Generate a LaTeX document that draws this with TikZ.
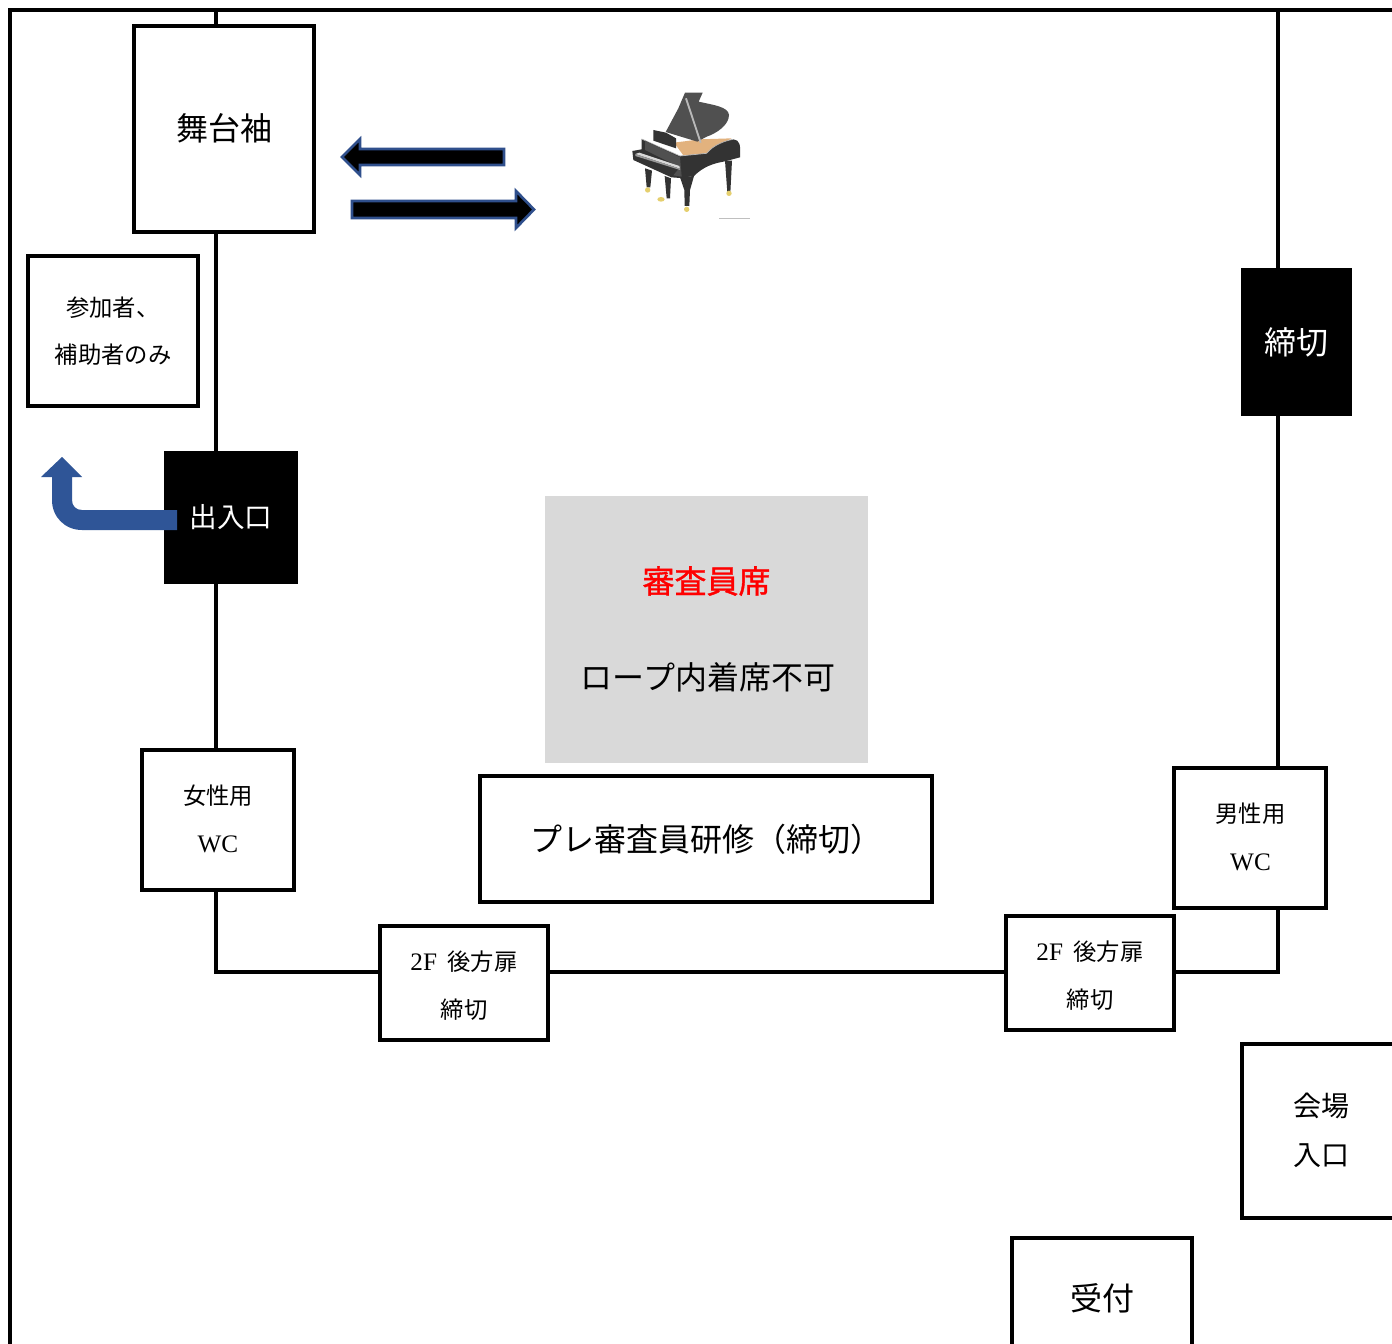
\documentclass[tikz,border=0pt]{standalone}
\usepackage{fontspec}
\setmainfont{Liberation Serif}
\newfontfamily\jp{Noto Sans CJK JP}
\newfontfamily\jpheavy{Noto Sans CJK JP}[FakeBold=1.2]
\newfontfamily\latinpart{Liberation Serif}[Scale=1.08]
\definecolor{arrowblue}{HTML}{2F5597}
\definecolor{greybox}{HTML}{D9D9D9}
\definecolor{edgeblue}{HTML}{2F4F8C}
\definecolor{pianodark}{HTML}{333333}
\definecolor{pianomid}{HTML}{505050}
\definecolor{pianorim}{HTML}{B8B8B8}
\definecolor{pianogold}{HTML}{E2B27E}
\definecolor{pianofoot}{HTML}{E5CF6E}
\tikzset{
 wall/.style={line width=3pt,black,line join=miter},
 roombox/.style={draw=black,line width=3pt,fill=white,inner sep=0pt,align=center,anchor=center,font=\jp},
 blackbox/.style={fill=black,text=white,inner sep=0pt,align=center,anchor=center,font=\jp},
 greyarea/.style={fill=greybox,inner sep=0pt,anchor=center},
 plain/.style={inner sep=0pt,align=center,anchor=center,font=\jp},
 double arrow part/.style={draw=edgeblue,line width=2pt,fill=black,line join=miter},
 bigtxt/.style={font=\jp\fontsize{24}{24}\selectfont},
 midtxt/.style={font=\jp\fontsize{17.5}{36}\selectfont},
 rim/.style={draw=pianorim,line width=0.5pt},
}
\begin{document}
\begin{tikzpicture}[x=0.75pt,y=-0.75pt]
\useasboundingbox (0,0) rectangle (1392,1344);
\fill[white] (0,0) rectangle (1392,1344);
% outer wall and inner wall
\coordinate (ob) at (10,1350);
\coordinate (ot) at (10,10);
\coordinate (oe) at (1392,10);
\coordinate (it1) at (216,10);
\coordinate (ib1) at (216,972);
\coordinate (ib2) at (1278,972);
\coordinate (it2) at (1278,10);
\draw[wall] (ob) -- (ot) -- (oe);
\draw[wall] (it1) -- (ib1) -- (ib2) -- (it2);
% rooms
\node[roombox,minimum width=135pt,minimum height=154.5pt] (stage) at (224,129) {};
\node[plain,bigtxt] (staget) at (224,128) {舞台袖};
\node[roombox,minimum width=127.5pt,minimum height=112.5pt,font=\jp\fontsize{17.5}{35.5}\selectfont] (parts) at (113,331) {参加者、\\補助者のみ};
\node[blackbox,minimum width=100.5pt,minimum height=100pt,font=\jp\fontsize{20.7}{24}\selectfont] (door) at (231,517.5) {出入口};
\node[blackbox,bigtxt,minimum width=83.5pt,minimum height=111pt] (close) at (1296.5,342) {締切};
\node[greyarea,minimum width=242.25pt,minimum height=200.25pt] (jury) at (706.5,629.5) {};
\node[plain,text=red,font=\jpheavy\fontsize{24}{24}\selectfont] (juryt) at (706.5,581) {審査員席};
\node[plain,bigtxt] (rope) at (708,677) {ロープ内着席不可};
\node[roombox,bigtxt,minimum width=339pt,minimum height=94.5pt] (pre) at (706,839) {プレ審査員研修（締切）};
\node[roombox,midtxt,minimum width=114pt,minimum height=105pt] (wcf) at (218,820) {};
\node[plain,midtxt] (wcft) at (218,818.5) {女性用\\{\latinpart WC}};
\node[roombox,midtxt,minimum width=114pt,minimum height=105pt] (wcm) at (1250,838) {};
\node[plain,midtxt] (wcmt) at (1250.5,836.5) {男性用\\{\latinpart WC}};
\node[roombox,minimum width=126pt,minimum height=85.5pt] (rearl) at (464,983) {};
\node[plain,midtxt] (rearlt) at (464,986) {{\latinpart 2F\hspace{0.42em}}後方扉\\締切};
\node[roombox,minimum width=126pt,minimum height=85.5pt] (rearr) at (1090,973) {};
\node[plain,midtxt] (rearrt) at (1090,976) {{\latinpart 2F\hspace{0.42em}}後方扉\\締切};
\node[roombox,minimum width=119.25pt,minimum height=130.5pt] (venue) at (1321.5,1131) {};
\node[plain,font=\jp\fontsize{21}{36.5}\selectfont] (venuet) at (1321,1130.5) {会場\\入口};
\node[roombox,minimum width=135pt,minimum height=84pt] (recep) at (1102,1294) {};
\node[plain,bigtxt] (recept) at (1102,1298) {受付};
% double arrows
\draw[double arrow part] (342,157) -- (360,139) -- (360,149) -- (504,149) -- (504,165) -- (360,165) -- (360,175) -- cycle;
\draw[double arrow part] (352,201) -- (516,201) -- (516,191) -- (534,209.5) -- (516,228) -- (516,218) -- (352,218) -- cycle;
% blue bent arrow
\fill[arrowblue] (177,510) -- (82,510) .. controls (76,510) and (72,506) .. (72,500) -- (72,477) -- (82,477) -- (62,457) -- (41,477) -- (52,477) -- (52,500) .. controls (52,517) and (65,530) .. (82,530) -- (177,530) -- cycle;
% piano
\begin{scope}[shift={(600,70)},x=0.25pt,y=-0.25pt]
 \fill[pianodark] (375,272) -- (396,272) -- (391,368) -- (382,368) -- cycle;
 \fill[pianodark] (135,295) -- (156,302) -- (151,352) -- (140,352) -- cycle;
 \fill[pianodark] (194,318) -- (213,325) -- (210,385) -- (200,385) -- cycle;
 \fill[pianodark] (240,322) -- (282,318) -- (270,360) -- (268,408) -- (254,408) -- (253,360) -- cycle;
 \fill[pianofoot] (143,360) circle (8);
 \fill[pianofoot] (387,370) circle (8);
 \fill[pianofoot] (260,418) circle (8);
 \fill[pianofoot] (183,388) ellipse (11 and 7);
 \fill[pianogold] (222,218) -- (300,208) -- (395,205) -- (345,232) -- (320,250) -- (250,256) -- cycle;
 \fill[pianomid] (255,68) -- (308,68) -- (296,95) .. controls (340,105) and (385,110) .. (387,135) .. controls (387,165) and (350,190) .. (320,200) -- (292,215) -- (197,186) -- (235,115) -- cycle;
 \fill[pianodark] (160,180) -- (198,188) -- (228,205) -- (228,235) -- (160,212) -- cycle;
 \fill[pianodark] (125,207) -- (240,258) -- (320,250) .. controls (340,225) and (375,212) .. (400,208) .. controls (420,210) and (422,225) .. (420,262) -- (375,274) .. controls (340,280) and (310,290) .. (282,318) -- (240,324) -- (214,322) -- (100,270) -- (97,243) -- (125,238) -- cycle;
 \draw[rim] (125,207) -- (240,258) -- (320,250) .. controls (340,225) and (375,212) .. (400,208);
 \fill[pianomid] (135,212) -- (240,262) -- (245,320) -- (220,316) -- (240,292) -- (135,240) -- cycle;
 \fill[white!85!black] (106,252) -- (240,296) -- (238,288) -- (118,248) -- cycle;
 \fill[white!60!black] (106,252) -- (240,296) -- (240,300) -- (106,258) -- cycle;
 \draw[pianorim,line width=1.4pt] (258,85) -- (302,218);
 \fill[gray!50] (358,443) rectangle (450,447);
\end{scope}
\end{tikzpicture}
\end{document}
